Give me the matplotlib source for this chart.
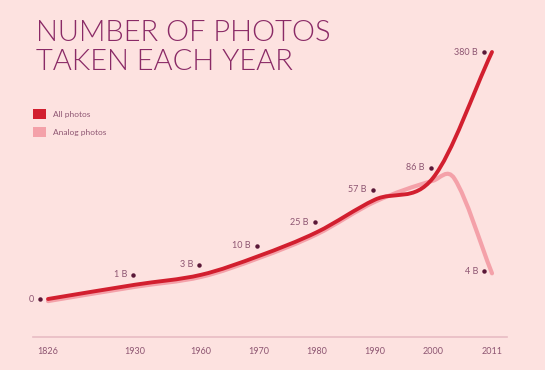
#!/usr/bin/env python3

import numpy as np
import matplotlib
matplotlib.use("Agg")
import matplotlib.pyplot as plt
from matplotlib.path import Path
from matplotlib.patches import PathPatch, Patch
import matplotlib.transforms as mtransforms

# Data
years = [1826, 1930, 1960, 1970, 1980, 1990, 2000, 2011]
all_photos = [0, 1, 3, 10, 25, 57, 86, 380]          # billions
analog_years = [1826, 1930, 1960, 1970, 1980, 1990, 2000, 2004, 2011]
analog_photos = [0, 1, 3, 10, 25, 57, 85, 88, 4]     # billions
tick_labels = ["1826", "1930", "1960", "1970", "1980", "1990", "2000", "2011"]

# Colours
BG = "#fde2e0"
RED = "#d21f2f"
PINK = "#f4a1a9"
TITLE = "#8a2a66"
TEXT = "#8e5672"
DOT = "#5a1838"
BASE = "#e8bcc4"

# Timeline is compressed before 1960 (years -> pixel position)
YEAR_ANCHORS = [1700, 1826, 1930, 1960, 1970, 2000, 2011, 2100]
PX_ANCHORS = [-57.4, 48, 135, 201, 259, 433, 492, 969]


def x_fwd(v):
    return np.interp(v, YEAR_ANCHORS, PX_ANCHORS)


def x_inv(v):
    return np.interp(v, PX_ANCHORS, YEAR_ANCHORS)


P = 0.48


def y_fwd(v):
    v = np.asarray(v, dtype=float)
    return np.sign(v) * np.abs(v) ** P


def y_inv(v):
    v = np.asarray(v, dtype=float)
    return np.sign(v) * np.abs(v) ** (1 / P)


def smooth_path(ax, xs, ys):
    # cardinal (Catmull-Rom style) curve through the data points, in display space
    pts = ax.transData.transform(np.column_stack([xs, ys]))
    px, py = pts[:, 0], pts[:, 1]
    n = len(px)
    m = np.zeros(n)
    for k in range(n):
        a = max(k - 1, 0)
        b = min(k + 1, n - 1)
        m[k] = (py[b] - py[a]) / (px[b] - px[a])
    verts = [pts[0]]
    codes = [Path.MOVETO]
    for i in range(n - 1):
        h = (px[i + 1] - px[i]) / 3
        verts.append([px[i] + h, py[i] + h * m[i]])
        verts.append([px[i + 1] - h, py[i + 1] - h * m[i + 1]])
        verts.append(pts[i + 1])
        codes += [Path.CURVE4] * 3
    verts = ax.transAxes.inverted().transform(np.array(verts))
    return Path(verts, codes)


plt.rcParams['font.family'] = ['Lato', 'DejaVu Sans']

W, H = 545, 370
fig = plt.figure(figsize=(W / 100, H / 100), dpi=100, facecolor=BG)

left, right, bottom, top = 33, 507, 337, 30
ax = fig.add_axes([left / W, 1 - bottom / H, (right - left) / W, (bottom - top) / H])
ax.set_facecolor(BG)
ax.set_xscale('function', functions=(x_fwd, x_inv))
ax.set_yscale('function', functions=(y_fwd, y_inv))
ax.set_xlim(x_inv(left), x_inv(right))
zero_px, top_px = 299, 52
u = y_fwd(380) / (zero_px - top_px)
ax.set_ylim(y_inv(-(bottom - zero_px) * u), y_inv((zero_px - top) * u))

for s in ["top", "right", "left"]:
    ax.spines[s].set_visible(False)
ax.spines["bottom"].set_color(BASE)
ax.spines["bottom"].set_linewidth(1.2)
ax.set_yticks([])
ax.set_xticks(years, tick_labels)
ax.tick_params(axis='x', length=0, pad=7, labelsize=6.5, labelcolor=TEXT)

# Lines: analog drawn underneath and slightly lower
shift = mtransforms.ScaledTranslation(0, -1.5 / 72, fig.dpi_scale_trans)
analog = PathPatch(smooth_path(ax, analog_years, analog_photos), fill=False,
                   edgecolor=PINK, lw=3.0, capstyle='round', joinstyle='round',
                   transform=ax.transAxes + shift)
ax.add_patch(analog)
allp = PathPatch(smooth_path(ax, years, all_photos), fill=False,
                 edgecolor=RED, lw=2.8, capstyle='round', joinstyle='round',
                 transform=ax.transAxes)
ax.add_patch(allp)


def label_point(x, v, end):
    txt = f"{v:g} B" if v else "0"
    # end points are marked beside the line, the others just above it
    if end:
        off = mtransforms.offset_copy(ax.transData, fig, x=-8, y=0, units='dots')
    else:
        off = mtransforms.offset_copy(ax.transData, fig, x=-2, y=10, units='dots')
    ax.plot([x], [v], marker='o', ms=2.2, color=DOT, transform=off, clip_on=False)
    lab = mtransforms.offset_copy(off, fig, x=-6, y=0, units='dots')
    ax.text(x, v, txt, transform=lab, ha='right', va='center', fontsize=6.5, color=TEXT)


for i, (x, v) in enumerate(zip(years, all_photos)):
    label_point(x, v, i in (0, len(years) - 1))
label_point(analog_years[-1], analog_photos[-1], True)

# Title
fig.text(36 / W, 1 - 20 / H, "NUMBER OF PHOTOS\nTAKEN EACH YEAR", ha='left', va='top',
         fontsize=21, fontweight=350, color=TITLE, linespacing=1.13)

# Legend
handles = [Patch(facecolor=RED, edgecolor='none'), Patch(facecolor=PINK, edgecolor='none')]
fig.legend(handles, ["All photos", "Analog photos"], loc='upper left',
           bbox_to_anchor=(33 / W, 1 - 109 / H), frameon=False, fontsize=6,
           handlelength=1.55, handleheight=1.45, handletextpad=0.9,
           labelspacing=1.0, borderpad=0, borderaxespad=0, labelcolor=TEXT)

fig.savefig("out.png", dpi=100, facecolor=BG)
